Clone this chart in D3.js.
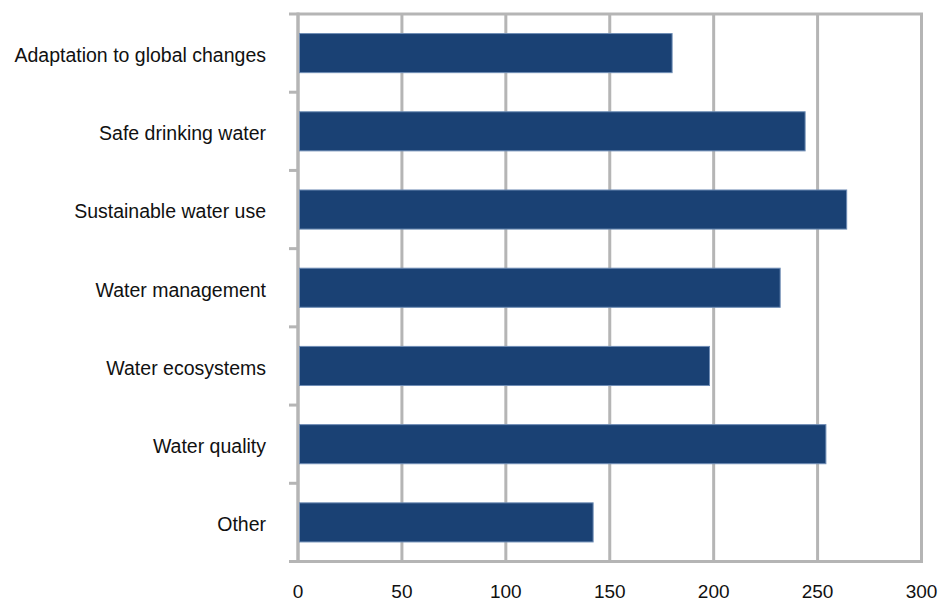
<!DOCTYPE html>
<html>
<head>
<meta charset="utf-8">
<script src="https://cdn.jsdelivr.net/npm/d3@7/dist/d3.min.js"></script>
<style>
  html, body { margin: 0; padding: 0; background: #fff; }
  svg { display: block; }
  text { font-family: "Liberation Sans", Arial, sans-serif; fill: #111; }
</style>
</head>
<body>
<svg id="chart" width="942" height="602"></svg>
<script>
// Number of projects per water research theme
const categories = [
  "Adaptation to global changes",
  "Safe drinking water",
  "Sustainable water use",
  "Water management",
  "Water ecosystems",
  "Water quality",
  "Other"
];
const values = [180, 244, 264, 232, 198, 254, 142];
const xTicks = [0, 50, 100, 150, 200, 250, 300];

const svg = d3.select("#chart");
const margin = { top: 14, right: 20.5, bottom: 40.5, left: 298 };
const W = 942, H = 602;
const innerW = W - margin.left - margin.right;
const innerH = H - margin.top - margin.bottom;

const g = svg.append("g").attr("transform", `translate(${margin.left},${margin.top})`);

const x = d3.scaleLinear().domain([0, 300]).range([0, innerW]);
const y = d3.scaleBand().domain(categories).range([0, innerH]).paddingInner(0.5).paddingOuter(0.25);

const gridColor = "#b5b5b5";

// vertical gridlines
g.append("g")
  .selectAll("line")
  .data(xTicks)
  .join("line")
  .attr("x1", d => x(d)).attr("x2", d => x(d))
  .attr("y1", 0).attr("y2", innerH)
  .attr("stroke", gridColor)
  .attr("stroke-width", 3);

// top and bottom frame lines, extended left like the category ticks
[0, innerH].forEach(yy => {
  g.append("line")
    .attr("x1", -9).attr("x2", innerW + 1.5)
    .attr("y1", yy).attr("y2", yy)
    .attr("stroke", gridColor)
    .attr("stroke-width", 3);
});

// left axis with ticks at category boundaries
const step = y.step();
const boundaries = d3.range(1, categories.length).map(i => i * step);
g.append("line")
  .attr("x1", 0).attr("x2", 0)
  .attr("y1", -1.5).attr("y2", innerH + 1.5)
  .attr("stroke", gridColor).attr("stroke-width", 3);
g.append("g")
  .selectAll("line")
  .data(boundaries)
  .join("line")
  .attr("x1", -9).attr("x2", 0)
  .attr("y1", d => d).attr("y2", d => d)
  .attr("stroke", gridColor).attr("stroke-width", 3);

// bars
g.append("g")
  .selectAll("rect")
  .data(categories)
  .join("rect")
  .attr("x", x(0) + 1.5)
  .attr("y", d => y(d))
  .attr("width", (d, i) => x(values[i]) - x(0) - 1.5)
  .attr("height", y.bandwidth())
  .attr("fill", "#1a4174")
  .attr("stroke", "#6f8db5")
  .attr("stroke-width", 1);

// category labels
g.append("g")
  .selectAll("text")
  .data(categories)
  .join("text")
  .attr("x", -32)
  .attr("y", d => y(d) + y.bandwidth() / 2)
  .attr("dy", "0.45em")
  .attr("text-anchor", "end")
  .attr("font-size", 19.5)
  .text(d => d);

// value axis labels
g.append("g")
  .selectAll("text")
  .data(xTicks)
  .join("text")
  .attr("x", d => x(d))
  .attr("y", innerH + 36.5)
  .attr("text-anchor", "middle")
  .attr("font-size", 19)
  .text(d => d);
</script>
</body>
</html>
